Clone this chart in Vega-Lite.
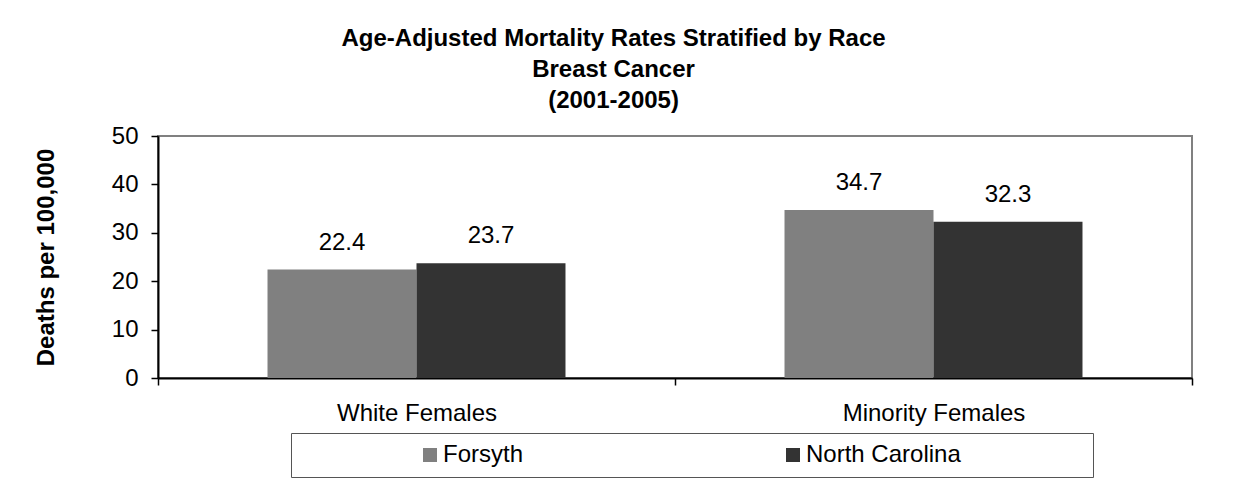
{
  "$schema": "https://vega.github.io/schema/vega-lite/v6.json",
  "width": 1034,
  "height": 242,
  "autosize": {"type": "none"},
  "padding": {"left": 158, "top": 136, "right": 41, "bottom": 115},
  "background": "white",
  "config": {
    "font": "Liberation Sans",
    "view": {"stroke": "#808080", "strokeWidth": 2},
    "axis": {"labelColor": "black", "titleColor": "black", "domainColor": "black", "tickColor": "black", "labelFont": "Liberation Sans", "titleFont": "Liberation Sans"}
  },
  "title": {
    "text": ["Age-Adjusted Mortality Rates Stratified by Race", "Breast Cancer", "(2001-2005)"],
    "fontSize": 24,
    "font": "Liberation Sans",
    "fontWeight": "bold",
    "color": "black",
    "lineHeight": 31,
    "anchor": "middle",
    "frame": "bounds",
    "offset": 11,
    "dx": 0
  },
  "data": {
    "values": [
      {"group": "White Females", "area": "Forsyth", "rate": 22.4},
      {"group": "White Females", "area": "North Carolina", "rate": 23.7},
      {"group": "Minority Females", "area": "Forsyth", "rate": 34.7},
      {"group": "Minority Females", "area": "North Carolina", "rate": 32.3}
    ]
  },
  "encoding": {
    "x": {
      "field": "group",
      "type": "nominal",
      "sort": ["White Females", "Minority Females"],
      "scale": {"paddingInner": 0, "paddingOuter": 0},
      "axis": {
        "title": null,
        "labelAngle": 0,
        "labelLimit": 400,
        "tickBand": "extent",
        "tickSize": 7,
        "tickWidth": 1.5,
        "domainWidth": 2,
        "labelPadding": 16,
        "labelFontSize": 24
      }
    },
    "xOffset": {
      "field": "area",
      "type": "nominal",
      "sort": ["Forsyth", "North Carolina"],
      "scale": {"paddingInner": 0, "paddingOuter": 0.735}
    },
    "y": {
      "field": "rate",
      "type": "quantitative",
      "scale": {"domain": [0, 50], "nice": false},
      "axis": {
        "title": "Deaths per 100,000",
        "titleFontSize": 24,
        "titleFontWeight": "bold",
        "titlePadding": 53,
        "values": [0, 10, 20, 30, 40, 50],
        "grid": false,
        "tickSize": 7,
        "tickWidth": 1.5,
        "domainWidth": 2,
        "labelPadding": 13,
        "labelFontSize": 24
      }
    }
  },
  "layer": [
    {
      "mark": {"type": "bar"},
      "encoding": {
        "color": {
          "field": "area",
          "type": "nominal",
          "scale": {"domain": ["Forsyth", "North Carolina"], "range": ["#808080", "#333333"]},
          "legend": {
            "title": "\u00a0",
            "titleOrient": "right",
            "titlePadding": 122,
            "titleFontSize": 24,
            "orient": "none",
            "direction": "horizontal",
            "legendX": 133,
            "legendY": 297,
            "strokeColor": "#555555",
            "fillColor": "white",
            "padding": 10,
            "symbolType": "square",
            "symbolSize": 196,
            "symbolStrokeWidth": 0,
            "symbolOpacity": 1,
            "symbolOffset": 117,
            "labelOffset": 1,
            "columnPadding": 140,
            "labelFontSize": 24,
            "labelFont": "Liberation Sans",
            "labelColor": "black"
          }
        }
      }
    },
    {
      "mark": {"type": "text", "dy": -20, "baseline": "alphabetic", "fontSize": 24, "color": "black"},
      "encoding": {
        "text": {"field": "rate", "type": "quantitative", "format": ".1f"}
      }
    }
  ]
}
